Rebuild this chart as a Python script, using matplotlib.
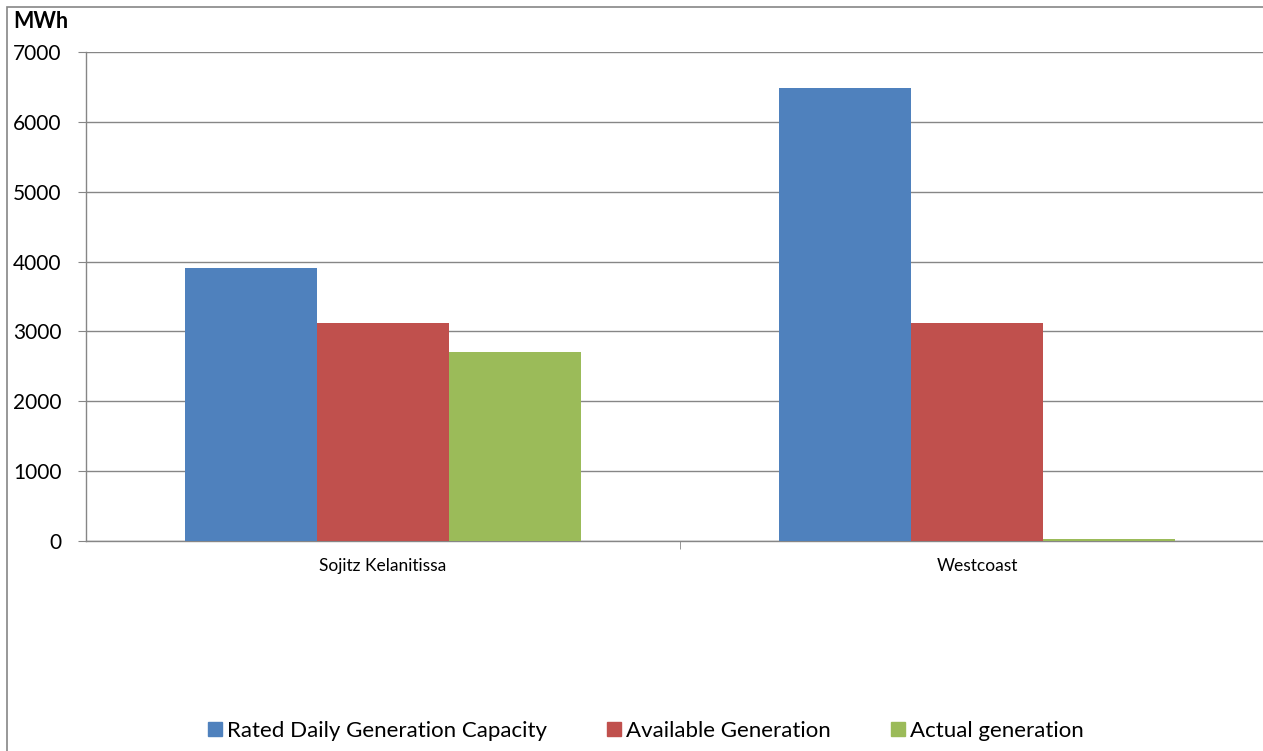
import matplotlib
matplotlib.use("Agg")
import matplotlib.pyplot as plt
from matplotlib.patches import Rectangle
from matplotlib.lines import Line2D
import numpy as np

categories = ["Sojitz Kelanitissa", "Westcoast"]
series_names = ["Rated Daily Generation Capacity", "Available Generation", "Actual generation"]
rated = [3905, 6480]
available = [3120, 3120]
actual = [2710, 35]
yticks = [0, 1000, 2000, 3000, 4000, 5000, 6000, 7000]

colors = ["#4F81BD", "#C0504D", "#9BBB59"]
plt.rcParams['font.family'] = ['Lato', 'DejaVu Sans']

W, H = 1263, 751
fig = plt.figure(figsize=(W/100, H/100), dpi=100)
ax = fig.add_axes([86/W, (H-541)/H, 1188/W, 489/H])

x = np.arange(len(categories))
bw = 132/594
for i, (vals, name) in enumerate(zip([rated, available, actual], series_names)):
    ax.bar(x + (i-1)*bw, vals, width=bw, color=colors[i], label=name, zorder=3)

ax.set_xlim(-0.5, 1.5)
ax.set_ylim(0, 7000)
ax.set_yticks(yticks)
ax.set_yticklabels([str(v) for v in yticks], fontsize=15)
ax.yaxis.grid(True, color="#868686", linewidth=1.0, zorder=0)
ax.set_xticks(x)
ax.set_xticklabels(categories, fontsize=12.5)
ax.tick_params(axis='x', length=0, pad=12)
ax.set_xticks([0.5], minor=True)
ax.tick_params(axis='x', which='minor', length=6, color="#868686", direction='out')
ax.tick_params(axis='y', length=6, color="#868686", pad=11.5)
for s in ['top', 'right']:
    ax.spines[s].set_visible(False)
for s in ['left', 'bottom']:
    ax.spines[s].set_color("#868686")
    ax.spines[s].set_linewidth(1.0)

fig.text(13/W, 1-22/H, "MWh", fontsize=15.5, fontweight='bold', va='center', ha='left')

# outer frame
fig.patches.append(Rectangle((7/W, -0.1), 1.1, 1.1 - 7/H, transform=fig.transFigure,
                             fill=False, edgecolor="#868686", linewidth=1.2))

handles = [Line2D([], [], marker='s', linestyle='none', markersize=9.5, color=c) for c in colors]
fig.legend(handles, series_names, loc='center', bbox_to_anchor=(645/W, 1-731/H), ncol=3,
           frameon=False, fontsize=16, handletextpad=0.15, columnspacing=2.6, handlelength=0.8)

fig.savefig("out.png", dpi=100)
